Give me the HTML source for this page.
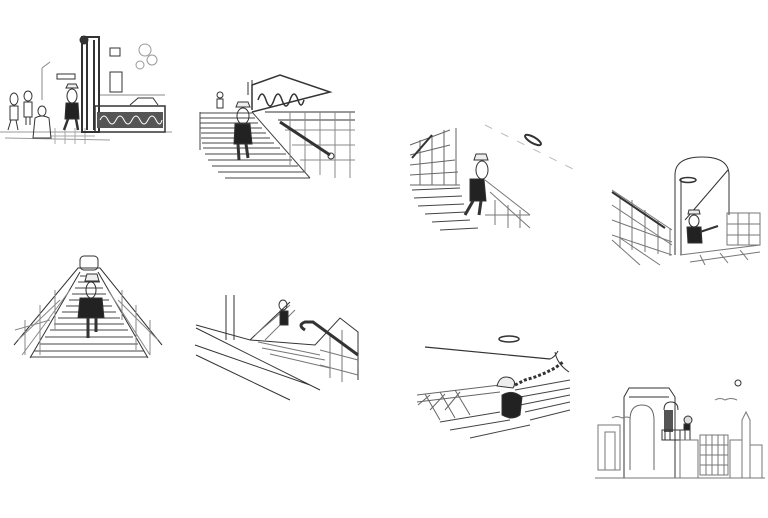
<!DOCTYPE html>
<html><head><meta charset="utf-8"><style>
html,body{margin:0;padding:0;background:#fff;}
svg{display:block}
</style></head><body>
<svg width="768" height="518" viewBox="0 0 768 518" xmlns="http://www.w3.org/2000/svg" fill="none" stroke="#333" stroke-width="1">
<!-- Panel 1 street -->
<g>
<line x1="0" y1="132" x2="172" y2="132" stroke="#999"/>
<line x1="5" y1="138" x2="110" y2="140" stroke="#999"/>
<g stroke="#aaa"><line x1="55" y1="128" x2="55" y2="144"/><line x1="65" y1="128" x2="65" y2="144"/><line x1="75" y1="128" x2="75" y2="144"/><line x1="85" y1="128" x2="85" y2="144"/><line x1="50" y1="136" x2="95" y2="136"/></g>
<rect x="82" y="37" width="17" height="95" stroke-width="2"/>
<line x1="87" y1="40" x2="87" y2="130" stroke-width="2"/>
<line x1="94" y1="40" x2="94" y2="130" stroke-width="2"/>
<circle cx="84" cy="40" r="4" fill="#333"/>
<rect x="95" y="106" width="70" height="26" stroke-width="1.5"/>
<rect x="97" y="112" width="66" height="16" fill="#555" stroke="none"/>
<g stroke="#fff"><path d="M100 120 q4 -8 8 0 q4 8 8 0 q4 -8 8 0 q4 8 8 0 q4 -8 8 0 q4 8 8 0 q4 -8 8 0 q4 8 6 0"/></g>
<rect x="110" y="48" width="10" height="8"/>
<rect x="110" y="72" width="12" height="20"/>
<line x1="100" y1="95" x2="165" y2="95" stroke="#888"/>
<path d="M130 105 l8 -7 h15 l5 7" />
<g stroke="#999"><circle cx="145" cy="50" r="6"/><circle cx="152" cy="60" r="5"/><circle cx="140" cy="65" r="4"/></g>
<line x1="42" y1="68" x2="42" y2="100" stroke="#888"/>
<line x1="42" y1="68" x2="50" y2="62" stroke="#888"/>
<rect x="57" y="74" width="18" height="5"/>
<!-- man -->
<path d="M66 88 h12 l-2 -4 h-8z" fill="#eee"/>
<ellipse cx="72" cy="96" rx="5" ry="7"/>
<path d="M66 103 h12 l1 16 h-14z" fill="#222"/>
<path d="M68 119 l-4 11 M76 119 l2 11" stroke-width="2.5"/>
<!-- other people -->
<ellipse cx="14" cy="99" rx="4" ry="6"/><path d="M10 106 v14 h8 v-14z"/><path d="M11 120 l-3 10 M16 120 l2 10"/>
<ellipse cx="28" cy="96" rx="4" ry="5"/><path d="M24 102 v15 h8 v-15z"/><path d="M26 117 v8 M30 117 v8"/>
<ellipse cx="42" cy="111" rx="4" ry="5"/><path d="M35 118 q7 -4 14 0 l2 20 h-18z"/>
</g>
<!-- Panel 2 stairs -->
<g>
<g stroke="#444">
<line x1="200" y1="113" x2="252" y2="113"/><line x1="200" y1="118" x2="255" y2="118"/>
<line x1="200" y1="123" x2="258" y2="123"/><line x1="200" y1="128" x2="262" y2="128"/>
<line x1="201" y1="133" x2="266" y2="133"/><line x1="201" y1="138" x2="270" y2="138"/>
<line x1="202" y1="143" x2="274" y2="143"/><line x1="203" y1="148" x2="280" y2="148"/>
<line x1="205" y1="154" x2="286" y2="154"/><line x1="208" y1="160" x2="292" y2="160"/>
<line x1="212" y1="166" x2="298" y2="166"/><line x1="218" y1="172" x2="305" y2="172"/>
<line x1="225" y1="178" x2="310" y2="178"/>
<line x1="200" y1="112" x2="200" y2="150"/>
<line x1="252" y1="112" x2="310" y2="178"/>
</g>
<path d="M252 110 L252 85 L280 75 L330 92 L252 112" stroke-width="1.5"/>
<g stroke-width="1.5"><path d="M258 100 q4 -12 8 0 q4 12 8 0 q4 -12 8 0 q4 12 8 0 q4 -12 8 0 q3 10 6 0"/></g>
<line x1="248" y1="82" x2="248" y2="95"/><line x1="252" y1="80" x2="252" y2="95"/>
<line x1="265" y1="112" x2="355" y2="112"/>
<line x1="278" y1="120" x2="355" y2="120"/>
<g stroke="#888">
<line x1="290" y1="112" x2="290" y2="165"/><line x1="305" y1="112" x2="305" y2="172"/><line x1="320" y1="112" x2="320" y2="175"/><line x1="335" y1="112" x2="335" y2="178"/><line x1="350" y1="112" x2="350" y2="178"/>
<line x1="285" y1="130" x2="355" y2="130"/><line x1="292" y1="145" x2="355" y2="145"/><line x1="300" y1="160" x2="355" y2="160"/>
</g>
<line x1="280" y1="122" x2="330" y2="155" stroke-width="3"/>
<circle cx="331" cy="156" r="3"/>
<path d="M236 107 h14 l-2 -5 h-10z" fill="#eee"/>
<ellipse cx="243" cy="116" rx="6" ry="8"/>
<path d="M235 124 h15 l2 20 h-18z" fill="#222"/>
<path d="M238 144 l1 16 M246 144 l2 14" stroke-width="3"/>
<ellipse cx="220" cy="95" rx="3" ry="3"/><rect x="217" y="99" width="6" height="9"/>
</g>
<!-- Panel 3 -->
<g>
<g stroke="#666">
<line x1="410" y1="145" x2="450" y2="130"/><line x1="410" y1="155" x2="450" y2="145"/><line x1="410" y1="165" x2="455" y2="160"/><line x1="410" y1="175" x2="458" y2="172"/><line x1="410" y1="185" x2="460" y2="185"/>
<line x1="420" y1="140" x2="420" y2="185"/><line x1="432" y1="135" x2="432" y2="185"/><line x1="444" y1="130" x2="444" y2="185"/><line x1="456" y1="128" x2="456" y2="185"/>
</g>
<line x1="412" y1="158" x2="432" y2="135" stroke-width="2"/>
<g stroke="#444">
<line x1="412" y1="190" x2="460" y2="188"/><line x1="414" y1="198" x2="462" y2="196"/><line x1="418" y1="206" x2="464" y2="204"/><line x1="425" y1="214" x2="466" y2="212"/><line x1="432" y1="222" x2="470" y2="220"/><line x1="440" y1="230" x2="478" y2="228"/>
</g>
<g stroke="#777">
<line x1="485" y1="180" x2="530" y2="215"/><line x1="490" y1="192" x2="530" y2="228"/>
<line x1="495" y1="200" x2="495" y2="225"/><line x1="508" y1="205" x2="508" y2="228"/><line x1="520" y1="210" x2="520" y2="228"/>
<line x1="485" y1="215" x2="530" y2="215"/>
</g>
<line x1="485" y1="125" x2="575" y2="170" stroke="#bbb" stroke-dasharray="8 10"/>
<ellipse cx="533" cy="140" rx="9" ry="3" transform="rotate(30 533 140)" stroke-width="2"/>
<path d="M474 160 h14 l-2 -6 h-10z" fill="#eee"/>
<ellipse cx="482" cy="170" rx="6" ry="9"/>
<path d="M470 179 h14 l2 22 h-16z" fill="#222"/>
<path d="M473 201 l-8 14 M481 201 l-2 14" stroke-width="3"/>
</g>
<!-- Panel 4 -->
<g>
<path d="M675 255 V175 q0 -18 27 -18 q27 0 27 18 V215"/>
<line x1="681" y1="255" x2="681" y2="178"/>
<line x1="685" y1="220" x2="728" y2="170"/>
<ellipse cx="688" cy="180" rx="8" ry="2.5" stroke-width="1.5"/>
<g stroke="#777">
<rect x="727" y="213" width="33" height="32"/><line x1="738" y1="213" x2="738" y2="245"/><line x1="749" y1="213" x2="749" y2="245"/><line x1="727" y1="224" x2="760" y2="224"/><line x1="727" y1="235" x2="760" y2="235"/>
<line x1="612" y1="190" x2="672" y2="230"/><line x1="612" y1="205" x2="672" y2="245"/>
<line x1="620" y1="195" x2="620" y2="248"/><line x1="632" y1="200" x2="632" y2="250"/><line x1="645" y1="210" x2="645" y2="252"/><line x1="658" y1="220" x2="658" y2="254"/><line x1="670" y1="228" x2="670" y2="256"/>
<line x1="612" y1="220" x2="672" y2="242"/><line x1="612" y1="235" x2="672" y2="255"/>
<line x1="612" y1="240" x2="640" y2="265"/><line x1="620" y1="238" x2="660" y2="265"/>
<line x1="680" y1="255" x2="760" y2="245"/><line x1="690" y1="262" x2="760" y2="252"/>
<line x1="700" y1="255" x2="705" y2="265"/><line x1="720" y1="253" x2="728" y2="263"/><line x1="740" y1="250" x2="748" y2="260"/>
</g>
<line x1="612" y1="192" x2="665" y2="228" stroke-width="2"/>
<path d="M688 214 h12 l-1 -4 h-10z" fill="#eee"/>
<ellipse cx="694" cy="221" rx="5" ry="6"/>
<path d="M687 227 h14 l1 16 h-14z" fill="#222"/>
<line x1="700" y1="232" x2="718" y2="226" stroke-width="2"/>
</g>
<!-- Panel 5 -->
<g>
<path d="M14 345 L78 268 L100 268 L162 345"/>
<path d="M30 358 L80 272 M148 358 L98 272"/>
<rect x="80" y="256" width="18" height="14" rx="4"/>
<g stroke="#444">
<line x1="80" y1="276" x2="98" y2="276"/><line x1="78" y1="282" x2="100" y2="282"/><line x1="75" y1="288" x2="103" y2="288"/><line x1="72" y1="294" x2="106" y2="294"/><line x1="69" y1="300" x2="109" y2="300"/><line x1="66" y1="306" x2="112" y2="306"/><line x1="62" y1="312" x2="116" y2="312"/><line x1="58" y1="318" x2="120" y2="318"/><line x1="54" y1="324" x2="124" y2="324"/><line x1="50" y1="330" x2="128" y2="330"/><line x1="45" y1="337" x2="133" y2="337"/><line x1="40" y1="344" x2="138" y2="344"/><line x1="34" y1="351" x2="144" y2="351"/><line x1="30" y1="357" x2="148" y2="357"/>
</g>
<g stroke="#888">
<line x1="18" y1="340" x2="60" y2="300"/><line x1="22" y1="355" x2="70" y2="290"/><line x1="15" y1="330" x2="50" y2="320"/>
<line x1="25" y1="320" x2="25" y2="355"/><line x1="40" y1="305" x2="40" y2="355"/><line x1="55" y1="290" x2="55" y2="330"/>
<line x1="158" y1="340" x2="118" y2="300"/><line x1="150" y1="355" x2="108" y2="290"/>
<line x1="150" y1="320" x2="150" y2="355"/><line x1="136" y1="305" x2="136" y2="350"/><line x1="122" y1="290" x2="122" y2="320"/>
</g>
<path d="M85 281 h14 l-2 -7 h-10z" fill="#eee"/>
<ellipse cx="91" cy="290" rx="5" ry="8"/>
<path d="M80 298 h22 l2 20 h-26z" fill="#222"/>
<path d="M88 318 v20 M96 318 v14" stroke-width="3"/>
</g>
<!-- Panel 6 -->
<g>
<line x1="226" y1="295" x2="226" y2="340"/><line x1="234" y1="295" x2="234" y2="340"/>
<path d="M196 325 L250 340 L290 302 M196 328 L320 390 M195 345 L310 385 M196 355 L290 400"/>
<path d="M250 340 L315 345 L340 318 L358 332 V380"/>
<g stroke="#777">
<line x1="255" y1="335" x2="290" y2="305"/><line x1="265" y1="340" x2="295" y2="310"/>
<line x1="258" y1="342" x2="320" y2="355"/><line x1="262" y1="348" x2="325" y2="360"/><line x1="270" y1="354" x2="330" y2="368"/>
<line x1="330" y1="335" x2="330" y2="378"/><line x1="342" y1="330" x2="342" y2="382"/><line x1="320" y1="350" x2="358" y2="360"/><line x1="320" y1="365" x2="358" y2="375"/>
</g>
<path d="M305 330 q-8 -5 0 -8 h8 L358 355" stroke-width="3"/>
<ellipse cx="283" cy="305" rx="4" ry="5"/>
<path d="M280 311 h8 v14 h-8z" fill="#222"/>
</g>
<!-- Panel 7 -->
<g>
<ellipse cx="509" cy="339" rx="10" ry="3" stroke-width="1.5"/>
<line x1="425" y1="347" x2="550" y2="359" stroke-width="1.2"/>
<path d="M550 359 q5 -2 8 -8 M555 352 q2 12 14 20"/>
<g stroke="#666">
<line x1="417" y1="395" x2="500" y2="385"/><line x1="417" y1="402" x2="500" y2="392"/>
<line x1="425" y1="394" x2="440" y2="420"/><line x1="440" y1="392" x2="455" y2="418"/><line x1="455" y1="390" x2="470" y2="415"/>
<line x1="418" y1="405" x2="430" y2="395"/><line x1="430" y1="410" x2="445" y2="394"/><line x1="445" y1="410" x2="460" y2="392"/>
</g>
<g stroke="#444">
<line x1="450" y1="430" x2="510" y2="420"/><line x1="440" y1="422" x2="500" y2="412"/><line x1="470" y1="438" x2="530" y2="425"/>
<line x1="520" y1="405" x2="570" y2="395"/><line x1="525" y1="412" x2="570" y2="402"/><line x1="530" y1="420" x2="570" y2="410"/><line x1="520" y1="397" x2="570" y2="388"/><line x1="515" y1="390" x2="570" y2="380"/>
</g>
<path d="M515 385 l10 -5 l10 -3 l10 -4 l10 -5 l8 -6" stroke-width="3" stroke-dasharray="3 2"/>
<path d="M497 386 q3 -12 14 -8 q6 4 2 10z" fill="#eee"/>
<path d="M502 395 q10 -6 20 2 l-2 18 q-8 6 -18 0z" fill="#222"/>
</g>
<!-- Panel 8 -->
<g>
<path d="M624 478 V397 l5 -9 h40 l6 9 V478"/>
<line x1="629" y1="397" x2="669" y2="397"/>
<path d="M630 470 V420 q0 -15 12 -15 q12 0 12 15 V470" stroke="#666"/>
<path d="M664 410 q0 -8 7 -8 q7 0 7 8"/>
<rect x="664" y="410" width="9" height="22" fill="#555" stroke="none"/>
<path d="M662 430 h28 v10 h-28z"/>
<line x1="665" y1="430" x2="665" y2="440"/><line x1="670" y1="430" x2="670" y2="440"/><line x1="675" y1="430" x2="675" y2="440"/><line x1="680" y1="430" x2="680" y2="440"/><line x1="685" y1="430" x2="685" y2="440"/>
<ellipse cx="688" cy="420" rx="4" ry="4" fill="#ddd"/>
<rect x="684" y="424" width="6" height="6" fill="#222"/>
<circle cx="738" cy="383" r="3"/>
<g stroke="#777">
<rect x="598" y="425" width="22" height="45"/><rect x="605" y="432" width="10" height="38"/>
<rect x="700" y="435" width="28" height="40"/>
<line x1="706" y1="435" x2="706" y2="475"/><line x1="712" y1="435" x2="712" y2="475"/><line x1="718" y1="435" x2="718" y2="475"/><line x1="724" y1="435" x2="724" y2="475"/>
<line x1="700" y1="445" x2="728" y2="445"/><line x1="700" y1="455" x2="728" y2="455"/><line x1="700" y1="465" x2="728" y2="465"/>
<path d="M742 478 V420 l4 -8 l4 8 V478"/>
<rect x="730" y="440" width="12" height="38"/>
<rect x="680" y="440" width="18" height="38"/>
<path d="M750 445 h12 v33"/>
<line x1="595" y1="478" x2="765" y2="478"/>
<path d="M612 418 q5 -3 10 0 q5 -2 8 0"/>
<path d="M715 400 q5 -3 10 0 q6 -3 12 0"/>
</g>
</g>
</svg>
</body></html>
